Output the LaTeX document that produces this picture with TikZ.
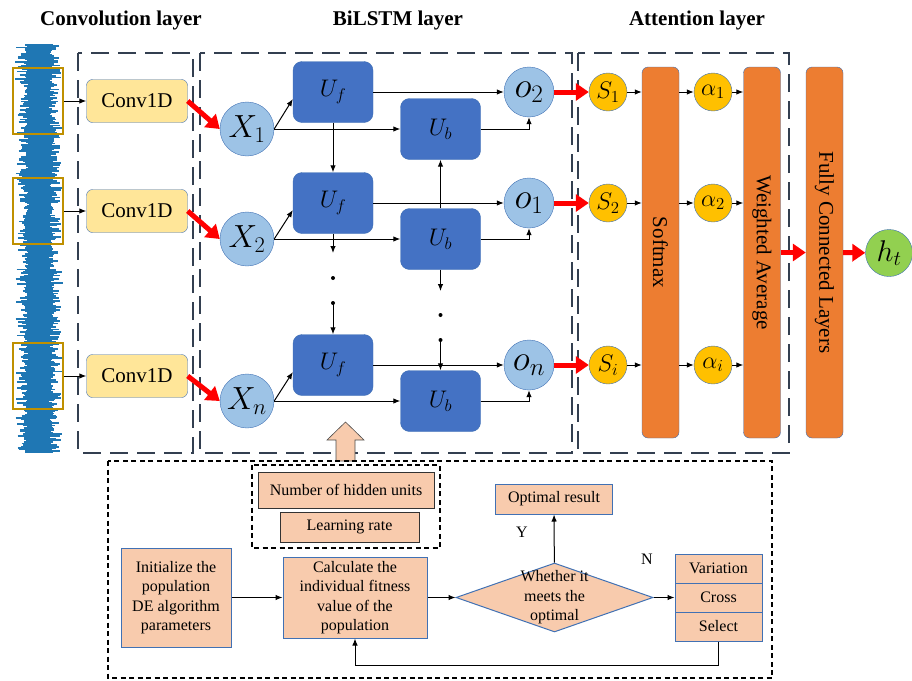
\RequirePackage{fix-cm}
\documentclass[tikz,border=0pt]{standalone}
\usepackage{fontspec}
\setmainfont{Liberation Serif}
\usepackage{tikz}
\usetikzlibrary{positioning,arrows.meta,shapes.geometric,calc}
\definecolor{wavec}{RGB}{31,119,180}
\definecolor{goldc}{RGB}{191,144,0}
\definecolor{convc}{RGB}{255,230,153}
\definecolor{lightc}{RGB}{157,195,230}
\definecolor{cellc}{RGB}{68,114,196}
\definecolor{edgec}{RGB}{65,113,180}
\definecolor{framec}{RGB}{51,63,80}
\definecolor{sc}{RGB}{255,192,0}
\definecolor{barc}{RGB}{237,125,49}
\definecolor{hc}{RGB}{146,208,80}
\definecolor{peachc}{RGB}{248,203,173}
\tikzstyle{layerframe}=[draw=framec,line width=2.6pt,dash pattern=on 18pt off 9pt]
\tikzstyle{dashbox}=[draw=black,line width=1.3pt,dash pattern=on 5pt off 3.5pt]
\tikzstyle{layertitle}=[font=\fontsize{21}{21}\selectfont\bfseries]
\tikzstyle{goldbox}=[draw=goldc,line width=2.2pt,minimum width=50pt,minimum height=66pt,inner sep=0pt]
\tikzstyle{convbox}=[draw=edgec,fill=convc,rounded corners=6pt,minimum width=101pt,minimum height=43pt,inner sep=0pt,font=\fontsize{21}{21}\selectfont]
\tikzstyle{xnode}=[circle,draw=edgec,fill=lightc,minimum size=54pt,inner sep=0pt,font=\fontsize{32}{32}\selectfont]
\tikzstyle{cell}=[draw=edgec,fill=cellc,rounded corners=9pt,minimum width=80pt,minimum height=61pt,inner sep=0pt,font=\fontsize{24}{24}\selectfont]
\tikzstyle{onode}=[circle,draw=edgec,fill=lightc,minimum size=50pt,inner sep=0pt,font=\fontsize{36}{36}\selectfont]
\tikzstyle{snode}=[circle,draw=edgec,fill=sc,minimum size=38pt,inner sep=0pt,font=\fontsize{24}{24}\selectfont]
\tikzstyle{attbar}=[draw=edgec,fill=barc,rounded corners=6pt,minimum width=37pt,minimum height=371pt,inner sep=0pt,font=\fontsize{21}{21}\selectfont]
\tikzstyle{flowbox}=[draw=edgec,fill=peachc,line width=1pt,align=center,inner sep=0pt,font=\fontsize{16}{19.5}\selectfont]
\tikzstyle{flowtext}=[align=center,inner sep=0pt,font=\fontsize{16}{19.5}\selectfont]
\tikzstyle{link}=[-{Latex[length=7pt,width=5.5pt]},line width=1pt]
\tikzstyle{redarrow}=[-{Triangle[length=13pt,width=17pt]},red,line width=5pt]
\begin{document}
\begin{tikzpicture}[x=1pt,y=-1pt]
\useasboundingbox (0,0) rectangle (912,680);
\pgfmathsetseed{7}
\foreach \y in {45,46.2,...,452}{
  \pgfmathsetmacro{\a}{10+4*rnd}
  \pgfmathsetmacro{\wl}{\a+11*rnd^2}
  \pgfmathsetmacro{\wr}{\a+11*rnd^2}
  \draw[wavec,line width=1.8pt] (39-\wl,\y) -- (39+\wr,\y);
}
\node[layertitle] (tconv) at (121,20) {Convolution layer};
\node[layertitle] (tbil) at (398,20) {BiLSTM layer};
\node[layertitle] (tatt) at (697,20) {Attention layer};
\draw[layerframe] (78,53) rectangle (193,453);
\draw[layerframe] (200,53) rectangle (572,453);
\draw[layerframe] (578,53) rectangle (789,453);
\node[attbar] (sm) at (660.5,252.5) {};
\node[rotate=-90,font=\fontsize{21}{21}\selectfont] (smt) at (sm) {Softmax};
\node[attbar] (wa) at (762,252.5) {};
\node[rotate=-90,font=\fontsize{21}{21}\selectfont] (wat) at (wa) {Weighted Average};
\node[attbar] (fc) at (824.5,252.5) {};
\node[rotate=-90,font=\fontsize{21}{21}\selectfont] (fct) at (fc) {Fully Connected Layers};
\node[circle,draw=edgec,fill=hc,minimum size=47pt,inner sep=0pt,font=\fontsize{30}{30}\selectfont] (ht) at (889,253) {$h_t$};
\draw[redarrow] (wa) -- (fc);
\draw[redarrow] (fc) -- (ht);
\foreach \r/\yf/\yb/\yc/\xs/\os/\ss in {1/92/129/101/1/2/1,2/203/239/211/2/1/2,3/365/401/376/n/n/i}{
  \node[goldbox] (g\r) at (38,\yc) {};
  \node[convbox] (c\r) at (137,\yc) {Conv1D};
  \node[xnode] (x\r) at (247,\yb) {$X_\xs$};
  \node[cell] (uf\r) at (333,\yf) {$U_f$};
  \node[cell] (ub\r) at (440.5,\yb) {$U_b$};
  \node[onode] (o\r) at (529,\yf) {$o_\os$};
  \node[snode] (s\r) at (608,\yf) {$S_\ss$};
  \node[snode] (a\r) at (713,\yf) {$\alpha_\ss$};
  \draw[link] (g\r) -- (c\r);
  \draw[redarrow] (c\r.east) -- (x\r.west);
  \draw[link] (x\r.east) -- (uf\r.190);
  \draw[link] (x\r.east) -- (ub\r.west);
  \draw[link] (uf\r) -- (o\r);
  \draw[link] (ub\r.east) -| (o\r.south);
  \draw[redarrow] (o\r) -- (s\r);
  \draw[link] (s\r) -- (s\r -| sm.west);
  \draw[link] (sm.east |- a\r) -- (a\r);
  \draw[link] (a\r) -- (a\r -| wa.west);
}
\draw[link] (uf1) -- (uf2);
\draw[link] (ub2) -- (ub1);
\coordinate (fa) at (333,253);
\coordinate (fb) at (333,303);
\coordinate (ba) at (440.5,291);
\coordinate (bb) at (440.5,340);
\draw[link] (uf2) -- (fa);
\draw[link] (fb) -- (uf3);
\draw[link] (ub2) -- (ba);
\draw[link] (bb) -- (ub3);
\foreach \q in {278,303} \fill (333,\q) circle (2pt);
\foreach \q in {315,340} \fill (440.5,\q) circle (2pt);
\draw[fill=peachc,draw=black!70,line width=0.6pt] (336,461) -- (336,440) -- (327,440) -- (345.5,422) -- (364,440) -- (355,440) -- (355,461) -- cycle;
\draw[dashbox] (108,461) rectangle (772,678);
\draw[dashbox] (252,465) rectangle (440,548);
\node[flowbox,draw=black!80,minimum width=176pt,minimum height=36pt] (hid) at (346,490) {Number of hidden units};
\node[flowbox,draw=black!80,minimum width=139pt,minimum height=30pt] (lr) at (349.5,527) {Learning rate};
\node[flowbox,minimum width=110pt,minimum height=99pt] (init) at (176,597.5) {Initialize the\\population\\DE algorithm\\parameters};
\node[flowbox,minimum width=144pt,minimum height=81pt] (calc) at (355,597.5) {Calculate the\\individual fitness\\value of the\\population};
\node[diamond,draw=edgec,fill=peachc,line width=1pt,minimum width=197pt,minimum height=69pt,inner sep=0pt] (judge) at (554.5,597.5) {};
\node[flowtext] (judget) at (judge) {Whether it\\meets the\\optimal};
\node[flowbox,minimum width=117pt,minimum height=30pt] (opt) at (554,499) {Optimal result};
\node[flowbox,minimum width=87pt,minimum height=29pt] (var) at (718.5,568.5) {Variation};
\node[flowbox,minimum width=87pt,minimum height=29pt] (cross) at (718.5,597.5) {Cross};
\node[flowbox,minimum width=87pt,minimum height=29pt] (sel) at (718.5,626.5) {Select};
\node[flowtext] (ylab) at (522,532) {Y};
\node[flowtext] (nlab) at (647,559) {N};
\draw[link] (init) -- (calc);
\draw[link] (calc) -- (judge);
\draw[link] (judge) -- (opt);
\draw[link] (judge) -- (cross);
\draw[link] (sel.south) -- ++(0,24) -| (calc.south);
\end{tikzpicture}
\end{document}
